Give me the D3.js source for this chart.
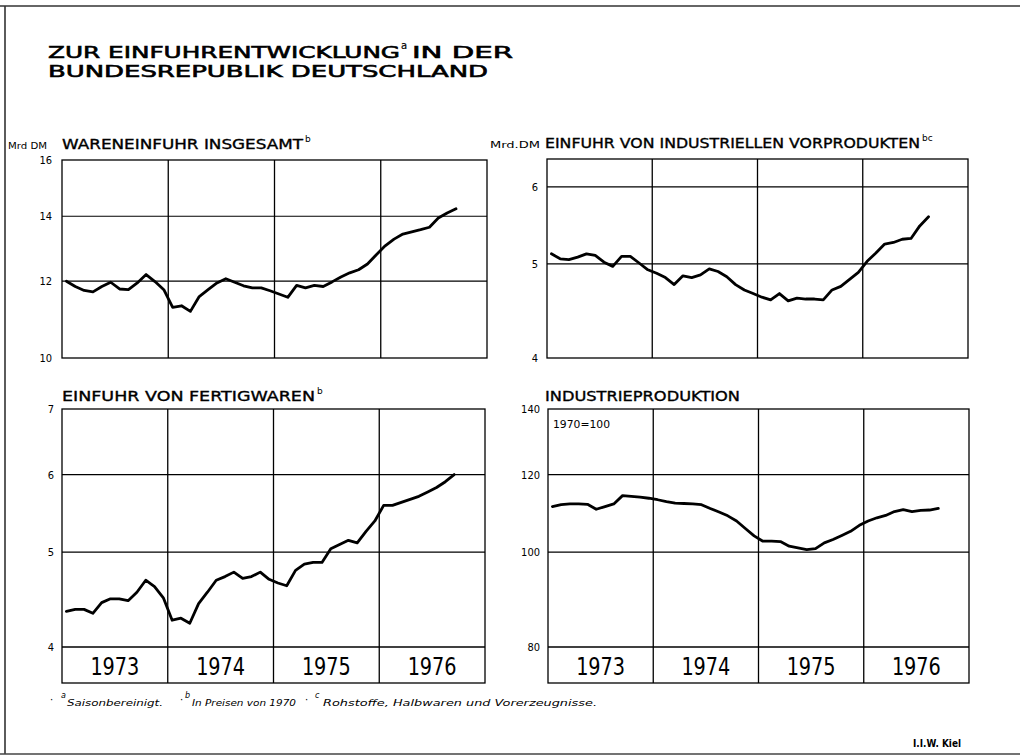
<!DOCTYPE html>
<html><head><meta charset="utf-8">
<script src="https://cdn.jsdelivr.net/npm/d3@7"></script>
<style>body{margin:0;background:#fff} svg{display:block}</style>
</head><body><svg id="c" width="1020" height="756"></svg>
<script>
// ---------- data ----------
const months = [
 "1973-01","1973-02","1973-03","1973-04","1973-05","1973-06","1973-07","1973-08","1973-09","1973-10","1973-11","1973-12",
 "1974-01","1974-02","1974-03","1974-04","1974-05","1974-06","1974-07","1974-08","1974-09","1974-10","1974-11","1974-12",
 "1975-01","1975-02","1975-03","1975-04","1975-05","1975-06","1975-07","1975-08","1975-09","1975-10","1975-11","1975-12",
 "1976-01","1976-02","1976-03","1976-04","1976-05","1976-06","1976-07","1976-08","1976-09"];
const years = ["1973","1974","1975","1976"];

// Wareneinfuhr insgesamt, Mrd DM (Jan 1973 - Sep 1976)
const importTotal = [12.0,11.85,11.74,11.70,11.85,11.97,11.78,11.76,11.95,12.19,11.99,11.76,
 11.28,11.32,11.17,11.57,11.76,11.95,12.07,11.97,11.87,11.81,11.81,11.73,
 11.64,11.55,11.88,11.81,11.88,11.85,11.98,12.12,12.24,12.33,12.50,12.78,
 13.05,13.26,13.42,13.49,13.56,13.64,13.94,14.11,14.25];
// Einfuhr von industriellen Vorprodukten, Mrd DM (Jan 1973 - Aug 1976)
const importInputs = [5.12,5.06,5.05,5.08,5.12,5.10,5.02,4.97,5.09,5.09,5.01,4.93,
 4.89,4.84,4.76,4.86,4.84,4.87,4.94,4.91,4.85,4.76,4.70,4.66,
 4.62,4.59,4.66,4.58,4.61,4.60,4.60,4.59,4.70,4.74,4.82,4.90,
 5.03,5.13,5.24,5.26,5.30,5.31,5.47,5.59];
// Einfuhr von Fertigwaren, Mrd DM (Jan 1973 - Sep 1976)
const importFinished = [4.35,4.37,4.37,4.33,4.44,4.48,4.48,4.46,4.55,4.68,4.61,4.49,
 4.26,4.28,4.23,4.43,4.55,4.68,4.72,4.77,4.70,4.72,4.77,4.69,
 4.65,4.62,4.79,4.86,4.88,4.88,5.04,5.09,5.14,5.11,5.25,5.38,
 5.58,5.58,5.62,5.66,5.70,5.76,5.82,5.90,6.00];
// Industrieproduktion, 1970 = 100 (Jan 1973 - Sep 1976)
const industrialProduction = [111.3,111.8,112.0,112.0,111.9,110.6,111.3,112.0,114.2,114.0,113.8,113.5,
 113.1,112.6,112.2,112.1,112.0,111.8,110.8,109.9,108.9,107.6,105.7,103.9,
 102.6,102.6,102.5,101.4,101.0,100.6,100.8,102.2,103.0,104.0,105.0,106.5,
 107.6,108.4,109.0,110.0,110.5,110.0,110.3,110.4,110.8];

const ticksTotal = [10,12,14,16];
const ticksInputs = [4,5,6];
const ticksFinished = [4,5,6,7];
const ticksProduction = [80,100,120,140];

// ---------- drawing ----------
const svg = d3.select("#c");
const FONT = "'DejaVu Sans', Arial, sans-serif";
const COND = "'DejaVu Sans Condensed', 'DejaVu Sans', sans-serif";

// frame
svg.append("line").attr("x1",0).attr("x2",1020).attr("y1",6).attr("y2",6).attr("stroke","#666").attr("stroke-width",2);
svg.append("line").attr("x1",5).attr("x2",5).attr("y1",6).attr("y2",754).attr("stroke","#333").attr("stroke-width",1.6);
svg.append("line").attr("x1",0).attr("x2",1020).attr("y1",754).attr("y2",754).attr("stroke","#444").attr("stroke-width",1.6);

function txt(x,y,s,opt){
  const t = svg.append("text").attr("x",x).attr("y",y).text(s)
    .attr("font-family",opt.family||FONT).attr("font-size",opt.size)
    .attr("fill","#000");
  if(opt.len){ t.attr("textLength",opt.len).attr("lengthAdjust","spacingAndGlyphs"); }
  if(opt.stroke){ t.attr("stroke","#000").attr("stroke-width",opt.stroke); }
  if(opt.italic){ t.attr("font-style","italic"); }
  if(opt.weight){ t.attr("font-weight",opt.weight); }
  if(opt.anchor){ t.attr("text-anchor",opt.anchor); }
  return t;
}

// title
txt(48,58,"ZUR  EINFUHRENTWICKLUNG",{size:16,len:352,stroke:0.6});
txt(401,49,"a",{size:10,stroke:0.2});
txt(412,58,"IN  DER",{size:16,len:101,stroke:0.6});
txt(48,77,"BUNDESREPUBLIK  DEUTSCHLAND",{size:16,len:440,stroke:0.6});

const monthIndex = m => (+m.slice(0,4)-1973)*12 + (+m.slice(5,7)-1);

const panels = [
  {values:importTotal, ticks:ticksTotal, grid:[12,14], domain:[10,16],
   left:62,right:487,top:160,bottom:358,band:null,labelRight:52,
   unit:"Mrd DM",unitX:8,unitLen:39,title:"WARENEINFUHR  INSGESAMT",titleX:62,titleLen:241,titleY:149,sup:"b",supX:305},
  {values:importInputs, ticks:ticksInputs, grid:[5,6], domain:[4,6.41],
   left:547,right:968,top:159,bottom:358,band:null,labelRight:538,
   unit:"Mrd.DM",unitX:490,unitLen:50,title:"EINFUHR  VON  INDUSTRIELLEN  VORPRODUKTEN",titleX:545,titleLen:375,titleY:148,sup:"bc",supX:922},
  {values:importFinished, ticks:ticksFinished, grid:[5,6], domain:[4,7],
   left:62,right:485,top:409,bottom:647,band:683,labelRight:54,
   unit:null,title:"EINFUHR  VON  FERTIGWAREN",titleX:62,titleLen:253,titleY:401,sup:"b",supX:317},
  {values:industrialProduction, ticks:ticksProduction, grid:[100,120], domain:[80,140],
   left:548,right:969,top:409,bottom:647,band:683,labelRight:540,
   unit:null,title:"INDUSTRIEPRODUKTION",titleX:545,titleLen:195,titleY:401,sup:null,note:"1970=100"}
];

panels.forEach(p=>{
  const g = svg.append("g");
  const x = d3.scaleLinear().domain([0,48]).range([p.left,p.right]);
  const y = d3.scaleLog().domain(p.domain).range([p.bottom,p.top]);
  const lowest = p.band || p.bottom;

  // box
  g.append("rect").attr("x",p.left).attr("y",p.top).attr("width",p.right-p.left).attr("height",lowest-p.top)
    .attr("fill","none").attr("stroke","#000").attr("stroke-width",1.3);
  // horizontal grid
  g.selectAll("line.h").data(p.grid).join("line").attr("class","h")
    .attr("x1",p.left).attr("x2",p.right).attr("y1",d=>y(d)).attr("y2",d=>y(d))
    .attr("stroke","#000").attr("stroke-width",1.2);
  if(p.band){
    g.append("line").attr("x1",p.left).attr("x2",p.right).attr("y1",p.bottom).attr("y2",p.bottom)
      .attr("stroke","#000").attr("stroke-width",1.3);
  }
  // year dividers
  g.selectAll("line.v").data([12,24,36]).join("line").attr("class","v")
    .attr("x1",d=>x(d)).attr("x2",d=>x(d)).attr("y1",p.top).attr("y2",lowest)
    .attr("stroke","#000").attr("stroke-width",1.3);
  // year labels
  if(p.band){
    g.selectAll("text.yr").data(years).join("text").attr("class","yr")
      .attr("x",(d,i)=>x(i*12+6)).attr("y",p.bottom+28)
      .attr("text-anchor","middle").attr("font-family",COND).attr("font-size",25)
      .attr("textLength",49).attr("lengthAdjust","spacingAndGlyphs")
      .text(d=>d);
  }
  // y axis labels
  const ax = d3.axisLeft(y).tickValues(p.ticks).tickSize(0).tickPadding(0).tickFormat(d3.format("d"));
  const axg = g.append("g").attr("transform",`translate(${p.labelRight},0)`).call(ax);
  axg.select(".domain").remove();
  axg.selectAll("text").attr("font-family",COND).attr("font-size",11).attr("fill","#000");

  // data line
  const line = d3.line().x((d,i)=>x(monthIndex(months[i])+0.5)).y(d=>y(d));
  g.append("path").datum(p.values).attr("d",line).attr("fill","none")
    .attr("stroke","#000").attr("stroke-width",2.8).attr("stroke-linejoin","round").attr("stroke-linecap","round");

  // titles
  if(p.unit) txt(p.unitX,p.titleY,p.unit,{size:9,len:p.unitLen,family:COND});
  txt(p.titleX,p.titleY,p.title,{size:13.5,len:p.titleLen,stroke:0.35});
  if(p.sup) txt(p.supX,p.titleY-7,p.sup,{size:9});
  if(p.note) txt(p.left+5,p.top+19,p.note,{size:10,family:COND,len:57});
});

// footnotes
const fy = 706;
txt(50,fy-3,"·",{size:10});
txt(61,fy-8,"a",{size:8,italic:true});
txt(67,fy,"Saisonbereinigt.",{size:9,italic:true,len:96,family:COND});
txt(180,fy-3,"·",{size:10});
txt(185,fy-8,"b",{size:8,italic:true});
txt(192,fy,"In Preisen von 1970",{size:9,italic:true,len:104,family:COND});
txt(305,fy-3,"·",{size:10});
txt(315,fy-8,"c",{size:8,italic:true});
txt(323,fy,"Rohstoffe, Halbwaren und Vorerzeugnisse.",{size:9,italic:true,len:274,family:COND});

txt(913,747,"I.I.W. Kiel",{size:10,weight:"bold",len:48,family:COND});
</script>
</body></html>
